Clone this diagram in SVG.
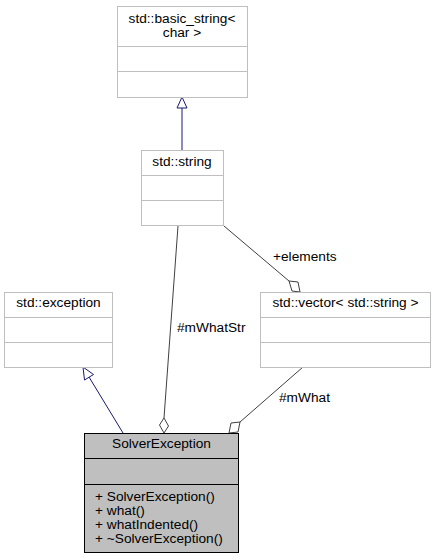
<svg xmlns="http://www.w3.org/2000/svg" width="436" height="560" viewBox="0 0 436 560">
<style>
text{font-family:"Liberation Sans",Arial,sans-serif;font-size:13.7px;fill:#000}
.c{text-anchor:middle}
.box{fill:#fff;stroke:#bfbfbf;stroke-width:1}
.main{fill:#bfbfbf;stroke:#000;stroke-width:1}
.inh{stroke:#191970;fill:none}
.comp{stroke:#404040;fill:none}
.tri{fill:#fff;stroke:#191970}
.dia{fill:#fff;stroke:#404040}
</style>
<rect width="436" height="560" fill="#fff"/>
<g id="edges">
<line class="inh" x1="182" y1="150" x2="182" y2="107"/>
<polygon class="tri" points="182,97 177,108 187,108"/>
<line class="inh" x1="123" y1="433" x2="89" y2="377"/>
<polygon class="tri" points="83,367 84.5,380 93.5,374.5"/>
<line class="comp" x1="178" y1="226" x2="164" y2="418"/>
<polygon class="dia" points="164,433 159.5,425 164,418 168.5,426"/>
<text x="177" y="332">#mWhatStr</text>
<line class="comp" x1="224" y1="226" x2="289" y2="281"/>
<polygon class="dia" points="300,292 292,291 289,281 298,282"/>
<text x="273" y="261">+elements</text>
<line class="comp" x1="303" y1="367" x2="240" y2="422"/>
<polygon class="dia" points="229,433 231,423 240,422 238,432"/>
<text x="279" y="402">#mWhat</text>
</g>
<g id="basic_string">
<rect class="box" x="117.5" y="6.5" width="130" height="91"/>
<line class="box" x1="117.5" y1="46.5" x2="247.5" y2="46.5"/>
<line class="box" x1="117.5" y1="71.5" x2="247.5" y2="71.5"/>
<text class="c" x="182" y="23">std::basic_string&lt;</text>
<text class="c" x="182" y="37">char &gt;</text>
</g>
<g id="string">
<rect class="box" x="141.5" y="150.5" width="82" height="75"/>
<line class="box" x1="141.5" y1="175.5" x2="223.5" y2="175.5"/>
<line class="box" x1="141.5" y1="200.5" x2="223.5" y2="200.5"/>
<text class="c" x="182" y="166">std::string</text>
</g>
<g id="exception">
<rect class="box" x="4.5" y="292.5" width="108" height="75"/>
<line class="box" x1="4.5" y1="317.5" x2="112.5" y2="317.5"/>
<line class="box" x1="4.5" y1="342.5" x2="112.5" y2="342.5"/>
<text class="c" x="58.5" y="307">std::exception</text>
</g>
<g id="vector">
<rect class="box" x="260.5" y="292.5" width="170" height="75"/>
<line class="box" x1="260.5" y1="317.5" x2="430.5" y2="317.5"/>
<line class="box" x1="260.5" y1="342.5" x2="430.5" y2="342.5"/>
<text class="c" x="345.5" y="307">std::vector&lt; std::string &gt;</text>
</g>
<g id="SolverException">
<rect class="main" x="84.5" y="433.5" width="154" height="119"/>
<line class="main" x1="84.5" y1="458.5" x2="238.5" y2="458.5"/>
<line class="main" x1="84.5" y1="484.5" x2="238.5" y2="484.5"/>
<text class="c" x="161.5" y="448">SolverException</text>
<text x="95" y="501">+ SolverException()</text>
<text x="95" y="515">+ what()</text>
<text x="95" y="529">+ whatIndented()</text>
<text x="95" y="543">+ ~SolverException()</text>
</g>
</svg>
